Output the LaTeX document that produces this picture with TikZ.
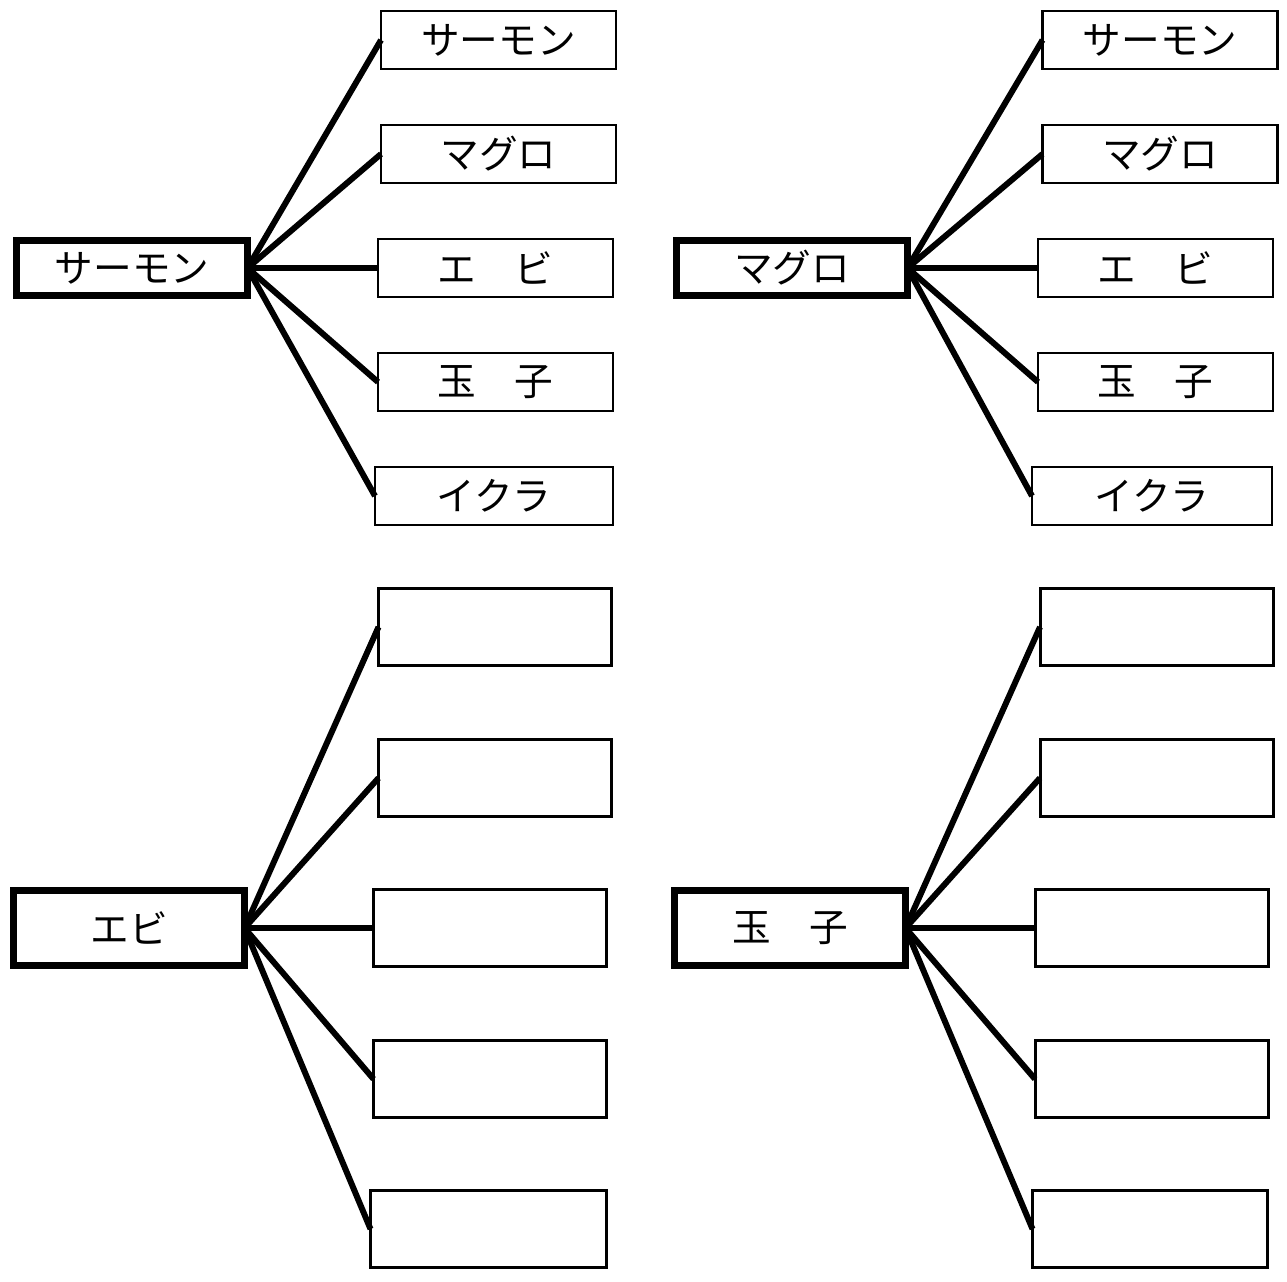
\documentclass[tikz,border=0pt]{standalone}
\usepackage{fontspec}
\newfontfamily\jpfont{Noto Sans CJK JP}
\usepackage{tikz}

\begin{document}
\begin{tikzpicture}[x=0.02cm, y=-0.02cm,
  every node/.style={outer sep=0pt, inner sep=0pt, font=\jpfont\fontsize{22}{26}\selectfont},
  root/.style={draw, line width=4pt, minimum width=231*0.02cm, minimum height=55*0.02cm},
  rootb/.style={root, minimum height=75*0.02cm},
  leaf/.style={draw, line width=1.2pt, minimum width=235*0.02cm, minimum height=58*0.02cm},
  leafb/.style={draw, line width=1.7pt, minimum width=233*0.02cm, minimum height=77*0.02cm},
  link/.style={line width=3.4pt}]
\useasboundingbox (0,0) rectangle (1287,1281);

% salmon
\node[root] (s0) at (132,268) {サーモン};
\node[leaf] (s1) at (498.5,40) {サーモン};
\node[leaf] (s2) at (498.5,154) {マグロ};
\node[leaf] (s3) at (495.5,268) {エ　ビ};
\node[leaf] (s4) at (495.5,382) {玉　子};
\node[leaf, minimum width=238*0.02cm] (s5) at (494,496) {イクラ};

% maguro
\node[root] (m0) at (792,268) {マグロ};
\node[leaf] (m1) at (1160,40) {サーモン};
\node[leaf] (m2) at (1160,154) {マグロ};
\node[leaf] (m3) at (1155.5,268) {エ　ビ};
\node[leaf] (m4) at (1155.5,382) {玉　子};
\node[leaf, minimum width=240*0.02cm] (m5) at (1152,496) {イクラ};

% ebi
\node[rootb] (e0) at (129,928) {エビ};
\node[leafb] (e1) at (495,627) {};
\node[leafb] (e2) at (495,778) {};
\node[leafb] (e3) at (490,928) {};
\node[leafb] (e4) at (490,1079) {};
\node[leafb, minimum width=236*0.02cm] (e5) at (488.5,1229) {};

% tamago
\node[rootb] (t0) at (790,928) {玉　子};
\node[leafb] (t1) at (1156.5,627) {};
\node[leafb] (t2) at (1156.5,778) {};
\node[leafb] (t3) at (1151.5,928) {};
\node[leafb] (t4) at (1151.5,1079) {};
\node[leafb, minimum width=235*0.02cm] (t5) at (1150,1229) {};

\foreach \r in {s,m,e,t}{
  \foreach \i in {1,...,5}{
    \draw[link] (\r0.east) -- (\r\i.west);
  }
}
\end{tikzpicture}
\end{document}
